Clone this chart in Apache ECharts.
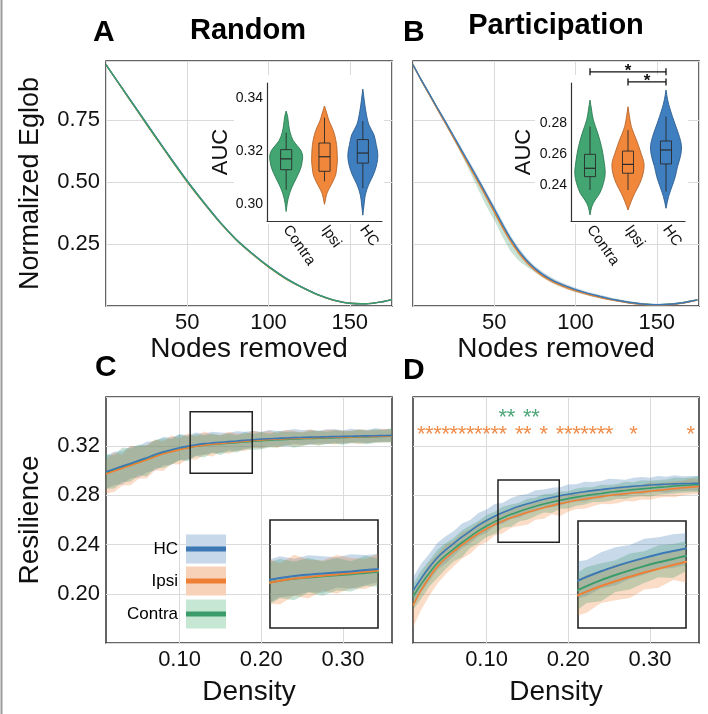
<!DOCTYPE html>
<html><head><meta charset="utf-8">
<script src="https://cdn.jsdelivr.net/npm/echarts@6/dist/echarts.min.js"></script>
<style>html,body{margin:0;padding:0;background:#fff}#c{width:708px;height:714px}</style>
</head><body><div id="c"></div>
<script>
// ---------------- DATA ----------------
const VIOLIN_CATS = ['Contra', 'Ipsi', 'HC'];
const LEGEND_NAMES = ['HC', 'Ipsi', 'Contra'];

// Panel A: random attack
const RAND_X = [0,10,20,30,40,50,60,70,80,90,100,110,120,130,140,150,160,170,176];
const RAND_HC = [0.975,0.880,0.785,0.690,0.596,0.505,0.420,0.340,0.270,0.212,0.160,0.115,0.078,0.047,0.024,0.011,0.009,0.017,0.027];
const RAND_IPSI = [0.975,0.878,0.782,0.687,0.593,0.502,0.418,0.338,0.268,0.210,0.158,0.113,0.077,0.046,0.023,0.011,0.009,0.017,0.027];
const RAND_CONTRA = [0.975,0.879,0.783,0.688,0.594,0.503,0.419,0.339,0.269,0.211,0.159,0.114,0.077,0.046,0.024,0.011,0.009,0.017,0.027];
const RAND_SPREAD = [0.002,0.004,0.005,0.005,0.005,0.005,0.005,0.005,0.004,0.004,0.004,0.004,0.003,0.003,0.003,0.002,0.002,0.002,0.002];

// Panel B: participation attack
const PART_X = [0,5,10,15,20,25,30,35,40,45,50,55,60,65,70,75,80,85,90,95,100,105,110,115,120,125,130,135,140,145,150,155,160,165,170,175];
const PART_HC = [0.975,0.915,0.858,0.800,0.744,0.686,0.628,0.570,0.512,0.452,0.392,0.330,0.273,0.224,0.184,0.152,0.127,0.107,0.091,0.078,0.066,0.056,0.047,0.039,0.031,0.024,0.018,0.013,0.009,0.006,0.005,0.006,0.008,0.012,0.018,0.025];
const PART_IPSI = [0.975,0.913,0.855,0.796,0.739,0.680,0.621,0.562,0.503,0.443,0.382,0.320,0.264,0.216,0.177,0.146,0.121,0.102,0.086,0.073,0.062,0.052,0.043,0.035,0.028,0.022,0.016,0.011,0.008,0.005,0.004,0.005,0.007,0.011,0.017,0.024];
const PART_CONTRA = [0.975,0.914,0.856,0.797,0.740,0.682,0.623,0.564,0.505,0.445,0.384,0.322,0.266,0.218,0.179,0.148,0.123,0.104,0.088,0.075,0.063,0.053,0.044,0.036,0.029,0.023,0.017,0.012,0.008,0.006,0.005,0.006,0.008,0.012,0.018,0.025];
const PART_HC_SPREAD = [0.002,0.004,0.006,0.007,0.008,0.009,0.010,0.011,0.012,0.012,0.013,0.013,0.012,0.012,0.011,0.010,0.010,0.009,0.009,0.008,0.008,0.007,0.007,0.006,0.006,0.005,0.005,0.005,0.004,0.004,0.004,0.004,0.004,0.004,0.004,0.004];
const PART_IPSI_SPREAD = [0.002,0.004,0.005,0.006,0.007,0.008,0.009,0.010,0.010,0.011,0.011,0.011,0.010,0.010,0.009,0.009,0.008,0.008,0.007,0.007,0.006,0.006,0.006,0.005,0.005,0.005,0.004,0.004,0.004,0.004,0.003,0.003,0.003,0.003,0.003,0.003];
const PART_CONTRA_UP = [0.002,0.004,0.005,0.006,0.007,0.008,0.009,0.010,0.011,0.014,0.016,0.015,0.013,0.011,0.010,0.009,0.008,0.008,0.007,0.007,0.006,0.006,0.006,0.005,0.005,0.005,0.004,0.004,0.004,0.004,0.003,0.003,0.003,0.003,0.003,0.003];
const PART_CONTRA_LO = [0.002,0.004,0.005,0.006,0.008,0.010,0.014,0.022,0.032,0.040,0.036,0.042,0.045,0.034,0.020,0.012,0.009,0.008,0.007,0.007,0.006,0.006,0.006,0.005,0.005,0.005,0.004,0.004,0.004,0.004,0.003,0.003,0.003,0.003,0.003,0.003];

// Violin insets (AUC)
const VA_CONTRA_LV = [0.3351,0.333,0.330,0.327,0.324,0.322,0.320,0.318,0.316,0.314,0.312,0.310,0.308,0.306,0.304,0.302,0.300,0.2971];
const VA_CONTRA_DN = [0,0.09,0.15,0.24,0.42,0.67,0.91,1,0.97,0.91,0.79,0.64,0.48,0.33,0.21,0.12,0.06,0];
const VA_IPSI_LV = [0.337,0.334,0.3313,0.329,0.3262,0.3224,0.319,0.3161,0.3135,0.311,0.309,0.3072,0.3055,0.304,0.302,0.2998];
const VA_IPSI_DN = [0,0.15,0.28,0.45,0.61,0.73,0.77,0.78,0.74,0.68,0.55,0.41,0.26,0.15,0.07,0];
const VA_HC_LV = [0.3434,0.339,0.3351,0.33,0.3262,0.3224,0.3186,0.3148,0.311,0.3072,0.3033,0.2995,0.2957];
const VA_HC_DN = [0,0.09,0.18,0.36,0.67,0.81,0.91,0.84,0.64,0.35,0.15,0.07,0];
// box: [lower whisker, q1, median, q3, upper whisker]
const VA_CONTRA_BOX = [0.3053,0.3129,0.3170,0.3205,0.3269];
const VA_IPSI_BOX = [0.3085,0.3123,0.3178,0.3230,0.3326];
const VA_HC_BOX = [0.3059,0.3154,0.3192,0.3243,0.3313];

const VB_CONTRA_LV = [0.2948,0.289,0.2819,0.2733,0.2647,0.2561,0.2476,0.2411,0.2347,0.2303,0.226,0.2207];
const VB_CONTRA_DN = [0,0.09,0.21,0.49,0.72,0.87,0.95,0.84,0.61,0.32,0.11,0];
const VB_IPSI_LV = [0.2905,0.285,0.2776,0.269,0.2604,0.254,0.2476,0.2411,0.2347,0.2292,0.2239];
const VB_IPSI_DN = [0,0.08,0.21,0.53,0.82,1.0,0.95,0.74,0.42,0.19,0];
const VB_HC_LV = [0.3013,0.295,0.2884,0.2798,0.2712,0.2647,0.2583,0.2518,0.2454,0.2389,0.2325,0.225];
const VB_HC_DN = [0,0.1,0.27,0.55,0.84,0.97,0.90,0.72,0.58,0.37,0.16,0];
const VB_CONTRA_BOX = [0.2368,0.2454,0.2508,0.2598,0.2776];
const VB_IPSI_BOX = [0.2368,0.2476,0.2533,0.2619,0.2755];
const VB_HC_BOX = [0.2357,0.2536,0.2626,0.2684,0.2841];

const VA_TICKS = [0.30, 0.32, 0.34];
const VB_TICKS = [0.24, 0.26, 0.28];
const SIG_FROM = ['Contra', 'Ipsi'];
const SIG_TO = ['HC', 'HC'];
const SIG_Y = [0.313, 0.3065];

// Panels C, D: resilience vs density
const DENSITY = [0.01,0.02,0.03,0.04,0.05,0.06,0.07,0.08,0.09,0.10,0.11,0.12,0.13,0.14,0.15,0.16,0.17,0.18,0.19,0.20,0.21,0.22,0.23,0.24,0.25,0.26,0.27,0.28,0.29,0.30,0.31,0.32,0.33,0.34,0.35,0.36];
const DENS_TICKS = [0.10, 0.20, 0.30];

const C_HC = [0.2992,0.3015,0.3038,0.3060,0.3083,0.3107,0.3132,0.3154,0.3171,0.3187,0.3200,0.3212,0.3221,0.3227,0.3232,0.3237,0.3242,0.3248,0.3253,0.3258,0.3261,0.3264,0.3267,0.3270,0.3272,0.3274,0.3275,0.3277,0.3278,0.3280,0.3281,0.3283,0.3284,0.3285,0.3287,0.3288];
const C_IPSI = [0.2975,0.2998,0.3021,0.3043,0.3066,0.3090,0.3115,0.3138,0.3156,0.3172,0.3186,0.3199,0.3209,0.3216,0.3222,0.3228,0.3234,0.3240,0.3246,0.3251,0.3255,0.3258,0.3261,0.3264,0.3266,0.3268,0.3270,0.3272,0.3273,0.3275,0.3276,0.3278,0.3279,0.3280,0.3282,0.3283];
const C_CONTRA = [0.2984,0.3006,0.3029,0.3051,0.3073,0.3096,0.3120,0.3142,0.3159,0.3175,0.3188,0.3199,0.3208,0.3214,0.3219,0.3224,0.3229,0.3235,0.3240,0.3245,0.3249,0.3252,0.3255,0.3258,0.3261,0.3263,0.3265,0.3267,0.3269,0.3271,0.3273,0.3275,0.3276,0.3278,0.3280,0.3281];
// band offsets (thousandths) above / below the mean
const C_HC_UP = [13,14,12,14,12,13,11,12,10,11,9,10,8,9,8,7,8,7,7,6,7,6,6,7,6,6,5,6,6,5,6,5,5,6,5,5];
const C_HC_LO = [14,13,15,12,14,12,13,11,12,10,11,9,9,8,9,7,8,7,6,7,6,6,7,5,6,6,5,6,5,6,5,5,6,5,5,5];
const C_IPSI_UP = [12,15,11,16,13,12,14,10,13,9,12,8,11,8,7,9,7,6,8,6,7,5,7,6,5,7,5,6,6,5,5,6,5,5,6,5];
const C_IPSI_LO = [16,17,14,16,13,15,11,14,10,12,9,11,8,10,7,9,7,8,6,7,6,7,5,6,6,5,6,5,6,5,5,6,5,5,5,5];
const C_CONTRA_UP = [15,12,16,13,14,11,13,12,10,12,9,10,8,9,7,8,6,8,6,7,5,7,6,6,5,6,6,5,6,5,5,6,5,6,5,7];
const C_CONTRA_LO = [13,15,12,14,11,14,10,12,11,9,11,8,10,7,9,7,8,6,7,7,6,6,5,7,6,5,6,5,5,6,5,5,6,5,5,5];

const D_HC = [0.2025,0.2125,0.2215,0.2295,0.2357,0.2410,0.2462,0.2510,0.2556,0.2596,0.2631,0.2661,0.2688,0.2711,0.2732,0.2751,0.2768,0.2783,0.2797,0.2809,0.2820,0.2830,0.2839,0.2847,0.2855,0.2862,0.2868,0.2874,0.2879,0.2884,0.2888,0.2891,0.2894,0.2896,0.2897,0.2898];
const D_IPSI = [0.1905,0.2030,0.2135,0.2223,0.2289,0.2344,0.2397,0.2445,0.2490,0.2529,0.2563,0.2592,0.2618,0.2641,0.2662,0.2682,0.2700,0.2717,0.2733,0.2747,0.2760,0.2771,0.2781,0.2790,0.2799,0.2807,0.2814,0.2821,0.2827,0.2834,0.2841,0.2848,0.2855,0.2862,0.2867,0.2872];
const D_CONTRA = [0.1978,0.2079,0.2170,0.2250,0.2312,0.2365,0.2417,0.2465,0.2511,0.2551,0.2587,0.2618,0.2646,0.2670,0.2692,0.2712,0.2730,0.2746,0.2761,0.2774,0.2786,0.2797,0.2807,0.2816,0.2825,0.2833,0.2840,0.2847,0.2853,0.2859,0.2865,0.2870,0.2876,0.2881,0.2885,0.2888];
const D_HC_UP = [11,12,11,12,11,10,11,9,10,9,10,8,9,9,8,9,8,8,7,8,7,8,7,7,8,7,6,7,7,6,7,6,7,6,6,6];
const D_HC_LO = [10,11,11,10,11,10,9,10,9,10,8,9,8,9,8,8,7,8,8,7,7,8,7,7,6,7,7,6,7,6,6,7,6,6,6,6];
const D_IPSI_UP = [12,11,12,10,11,9,10,8,9,8,7,8,7,8,7,7,6,7,7,6,7,6,7,6,6,7,6,6,6,7,6,6,6,6,7,6];
const D_IPSI_LO = [18,16,15,14,13,12,11,12,10,11,9,10,8,9,10,8,9,7,10,8,7,8,7,6,7,7,6,7,6,7,6,6,7,6,6,6];
const D_CONTRA_UP = [10,11,10,11,10,9,10,9,8,9,8,9,8,7,8,7,8,7,7,6,7,7,6,7,6,6,7,6,7,6,6,6,7,6,6,7];
const D_CONTRA_LO = [11,12,11,12,11,10,12,9,10,9,10,8,10,8,9,8,7,9,7,8,7,7,6,7,7,6,7,6,6,7,6,6,6,6,6,6];

// zoom boxes
const C_BOX_X = [0.113, 0.189];
const C_BOX_Y = [0.298, 0.348];
const D_BOX_X = [0.114, 0.189];
const D_BOX_Y = [0.242, 0.2925];

// significance markers in D
const STAR_IPSI_X = [0.02,0.03,0.04,0.05,0.06,0.07,0.08,0.09,0.10,0.11,0.12,0.14,0.15,0.17,0.19,0.20,0.21,0.22,0.23,0.24,0.25,0.28,0.35];
const STAR_IPSI_Y = 0.3328;
const STAR_CONTRA_X = [0.12,0.13,0.15,0.16];
const STAR_CONTRA_Y = 0.3467;

// ---------------- STYLE / LAYOUT ----------------
const FONT = 'Liberation Sans, Arial, Helvetica, sans-serif';
const COL = {HC:'#3b78b4', Ipsi:'#ee8035', Contra:'#3a9c69'};
const FILL = {HC:'rgba(59,120,180,0.28)', Ipsi:'rgba(238,128,53,0.28)', Contra:'rgba(58,156,105,0.28)'};
const LEG_FILL = {HC:'#c6d8ea', Ipsi:'#f8d2b8', Contra:'#c7e7d5'};
const VCOL = {HC:'#3f7fc0', Ipsi:'#f0873b', Contra:'#43a572'};
const VEDGE = {HC:'#2b5e90', Ipsi:'#b5652c', Contra:'#2c7c54'};
const GRIDC = '#dadada';

const G = [
  {left:106, top:61, width:286, height:245},   // 0 A
  {left:413, top:61, width:286, height:245},   // 1 B
  {left:106, top:397, width:286, height:246},  // 2 C
  {left:413, top:397, width:286, height:246},  // 3 D
  {left:267, top:83, width:115, height:138},   // 4 A violin
  {left:571, top:83, width:114, height:138},   // 5 B violin
  {left:270, top:520, width:108, height:108},  // 6 C inset
  {left:578, top:521, width:108, height:107}   // 7 D inset
];
const C_Y = [0.16, 0.36];

function mainToInset(g, mainG, mainR, insG, insR) {
  const py = mainG.top + mainG.height - (g - mainR[0]) / (mainR[1] - mainR[0]) * mainG.height;
  return insR[0] + (insG.top + insG.height - py) / insG.height * (insR[1] - insR[0]);
}
const insetGridVals = (insG, insR, mainG) => [0.20, 0.24, 0.28, 0.32]
  .map(g => mainToInset(g, mainG, C_Y, insG, insR))
  .filter(v => v > insR[0] && v < insR[1]);

const grids = G.map((g, i) => {
  const base = Object.assign({outerBoundsMode:'none', containLabel:false}, g);
  if (i < 4) Object.assign(base, {show:true, borderColor:'#333', borderWidth:1.5, backgroundColor:'transparent'});
  else if (i >= 6) Object.assign(base, {show:true, borderColor:'#222', borderWidth:1.6, backgroundColor:'#ffffff', z:1});
  else Object.assign(base, {show:false});
  return base;
});

const tickLabel = {fontSize:22, color:'#111', fontFamily:FONT};
const nameStyle = {fontSize:28, color:'#111', fontFamily:FONT};
const split = {show:true, lineStyle:{color:GRIDC, width:1}};

function mainX(gi, opts) {
  return Object.assign({gridIndex:gi, type:'value', axisLine:{show:false}, axisTick:{show:false},
    splitLine:split, nameLocation:'middle', nameTextStyle:nameStyle}, opts);
}
const xAxes = [
  mainX(0, {min:0, max:176, interval:50, axisLabel:Object.assign({margin:6, showMinLabel:false, showMaxLabel:false}, tickLabel), name:'Nodes removed', nameGap:29}),
  mainX(1, {min:0, max:176, interval:50, axisLabel:Object.assign({margin:6, showMinLabel:false, showMaxLabel:false}, tickLabel), name:'Nodes removed', nameGap:29}),
  mainX(2, {min:0.01, max:0.36, axisTick:{show:false, customValues:DENS_TICKS}, axisLabel:Object.assign({margin:6, customValues:DENS_TICKS, formatter:v=>v.toFixed(2)}, tickLabel), name:'Density', nameGap:35}),
  mainX(3, {min:0.01, max:0.36, axisTick:{show:false, customValues:DENS_TICKS}, axisLabel:Object.assign({margin:6, customValues:DENS_TICKS, formatter:v=>v.toFixed(2)}, tickLabel), name:'Density', nameGap:35}),
  {gridIndex:4, type:'category', data:VIOLIN_CATS, z:3, axisLine:{show:true, lineStyle:{color:'#333', width:1.2}}, axisTick:{show:false}, splitLine:{show:false},
    axisLabel:{rotate:-55, fontSize:15, color:'#111', fontFamily:FONT, margin:6, interval:0}},
  {gridIndex:5, type:'category', data:VIOLIN_CATS, z:3, axisLine:{show:true, lineStyle:{color:'#333', width:1.2}}, axisTick:{show:false}, splitLine:{show:false},
    axisLabel:{rotate:-55, fontSize:15, color:'#111', fontFamily:FONT, margin:6, interval:0}},
  {gridIndex:6, type:'value', min:C_BOX_X[0], max:C_BOX_X[1], show:false},
  {gridIndex:7, type:'value', min:D_BOX_X[0], max:D_BOX_X[1], show:false}
];
const civ = insetGridVals(G[6], C_BOX_Y, G[2]);
const div_ = insetGridVals(G[7], D_BOX_Y, G[3]);
const yAxes = [
  {gridIndex:0, type:'value', min:0, max:0.99, interval:0.25, axisLine:{show:false}, axisTick:{show:false}, splitLine:split,
    axisLabel:Object.assign({margin:6, showMinLabel:false, showMaxLabel:false, formatter:v=>v.toFixed(2)}, tickLabel),
    name:'Normalized Eglob', nameLocation:'middle', nameGap:62, nameTextStyle:Object.assign({}, nameStyle, {fontSize:27})},
  {gridIndex:1, type:'value', min:0, max:0.99, interval:0.25, axisLine:{show:false}, axisTick:{show:false}, splitLine:split, axisLabel:{show:false}},
  {gridIndex:2, type:'value', min:C_Y[0], max:C_Y[1], interval:0.04, axisLine:{show:false}, axisTick:{show:false}, splitLine:split,
    axisLabel:Object.assign({margin:6, showMinLabel:false, showMaxLabel:false, formatter:v=>v.toFixed(2)}, tickLabel),
    name:'Resilience', nameLocation:'middle', nameGap:62, nameTextStyle:nameStyle},
  {gridIndex:3, type:'value', min:C_Y[0], max:C_Y[1], interval:0.04, axisLine:{show:false}, axisTick:{show:false}, splitLine:split, axisLabel:{show:false}},
  {gridIndex:4, type:'value', min:0.2935, max:0.3457, z:3, axisLine:{show:true, lineStyle:{color:'#333', width:1.2}}, axisTick:{show:false, customValues:VA_TICKS}, splitLine:{show:false},
    axisLabel:{customValues:VA_TICKS, fontSize:14, color:'#111', fontFamily:FONT, margin:4, formatter:v=>v.toFixed(2)},
    name:'AUC', nameLocation:'middle', nameGap:34, nameTextStyle:{fontSize:22, color:'#111', fontFamily:FONT}},
  {gridIndex:5, type:'value', min:0.2168, max:0.3058, z:3, axisLine:{show:true, lineStyle:{color:'#333', width:1.2}}, axisTick:{show:false, customValues:VB_TICKS}, splitLine:{show:false},
    axisLabel:{customValues:VB_TICKS, fontSize:14, color:'#111', fontFamily:FONT, margin:4, formatter:v=>v.toFixed(2)},
    name:'AUC', nameLocation:'middle', nameGap:36, nameTextStyle:{fontSize:22, color:'#111', fontFamily:FONT}},
  {gridIndex:6, type:'value', min:C_BOX_Y[0], max:C_BOX_Y[1], z:2, axisLine:{show:false}, axisLabel:{show:false}, axisTick:{show:false, customValues:civ}, splitLine:split},
  {gridIndex:7, type:'value', min:D_BOX_Y[0], max:D_BOX_Y[1], z:2, axisLine:{show:false}, axisLabel:{show:false}, axisTick:{show:false, customValues:div_}, splitLine:split}
];

// ---------------- SERIES ----------------
const series = [];
function band(ax, xs, lo, hi, fill, clip, z) {
  series.push({type:'custom', xAxisIndex:ax, yAxisIndex:ax, clip:!!clip, silent:true, z:z||2, data:[[xs[0], lo[0]]],
    renderItem:(p, api) => {
      const pts = [];
      for (let i = 0; i < xs.length; i++) pts.push(api.coord([xs[i], hi[i]]));
      for (let i = xs.length - 1; i >= 0; i--) pts.push(api.coord([xs[i], lo[i]]));
      return {type:'polygon', shape:{points:pts}, style:{fill:fill}};
    }});
}
function line(ax, xs, ys, color, w, z) {
  series.push({type:'line', xAxisIndex:ax, yAxisIndex:ax, data:xs.map((x, i) => [x, ys[i]]), symbol:'none', showSymbol:false,
    smooth:0.3, lineStyle:{color:color, width:w}, silent:true, z:z||3, clip:true});
}
const add = (a, b, s) => a.map((v, i) => v + s * b[i]);
const addK = (a, b, s) => a.map((v, i) => v + s * b[i] / 1000);

// A
band(0, RAND_X, add(RAND_HC, RAND_SPREAD, -1), add(RAND_HC, RAND_SPREAD, 1), FILL.HC);
band(0, RAND_X, add(RAND_IPSI, RAND_SPREAD, -1), add(RAND_IPSI, RAND_SPREAD, 1), FILL.Ipsi);
band(0, RAND_X, add(RAND_CONTRA, RAND_SPREAD, -1), add(RAND_CONTRA, RAND_SPREAD, 1), FILL.Contra);
line(0, RAND_X, RAND_IPSI, COL.Ipsi, 1.4);
line(0, RAND_X, RAND_HC, COL.HC, 1.4);
line(0, RAND_X, RAND_CONTRA, COL.Contra, 1.4);
// B
band(1, PART_X, add(PART_HC, PART_HC_SPREAD, -1), add(PART_HC, PART_HC_SPREAD, 1), FILL.HC);
band(1, PART_X, add(PART_IPSI, PART_IPSI_SPREAD, -1), add(PART_IPSI, PART_IPSI_SPREAD, 1), FILL.Ipsi);
band(1, PART_X, add(PART_CONTRA, PART_CONTRA_LO, -1), add(PART_CONTRA, PART_CONTRA_UP, 1), FILL.Contra);
line(1, PART_X, PART_CONTRA, COL.Contra, 1.4);
line(1, PART_X, PART_IPSI, COL.Ipsi, 1.4);
line(1, PART_X, PART_HC, COL.HC, 1.4);

// C, D and their insets
const CD = [
  {ax:2, hc:C_HC, ip:C_IPSI, co:C_CONTRA, hu:C_HC_UP, hl:C_HC_LO, iu:C_IPSI_UP, il:C_IPSI_LO, cu:C_CONTRA_UP, cl:C_CONTRA_LO, ins:6},
  {ax:3, hc:D_HC, ip:D_IPSI, co:D_CONTRA, hu:D_HC_UP, hl:D_HC_LO, iu:D_IPSI_UP, il:D_IPSI_LO, cu:D_CONTRA_UP, cl:D_CONTRA_LO, ins:7}
];
CD.forEach(d => {
  [d.ax, d.ins].forEach(ax => {
    const clip = ax === d.ins;
    const z = clip ? 4 : 2;
    band(ax, DENSITY, addK(d.hc, d.hl, -1), addK(d.hc, d.hu, 1), FILL.HC, true, z);
    band(ax, DENSITY, addK(d.ip, d.il, -1), addK(d.ip, d.iu, 1), FILL.Ipsi, true, z);
    band(ax, DENSITY, addK(d.co, d.cl, -1), addK(d.co, d.cu, 1), FILL.Contra, true, z);
    line(ax, DENSITY, d.co, COL.Contra, clip ? 2 : 1.6, z + 1);
    line(ax, DENSITY, d.ip, COL.Ipsi, clip ? 2 : 1.6, z + 1);
    line(ax, DENSITY, d.hc, COL.HC, clip ? 2 : 1.6, z + 1);
  });
});

// zoom boxes
[[2, C_BOX_X, C_BOX_Y], [3, D_BOX_X, D_BOX_Y]].forEach(([ax, bx, by]) => {
  series.push({type:'custom', xAxisIndex:ax, yAxisIndex:ax, silent:true, z:6, clip:false,
    data:[[bx[0], by[1], bx[1], by[0]]],
    renderItem:(p, api) => {
      const a = api.coord([api.value(0), api.value(1)]);
      const b = api.coord([api.value(2), api.value(3)]);
      return {type:'rect', shape:{x:a[0], y:a[1], width:b[0] - a[0], height:b[1] - a[1]}, style:{fill:'none', stroke:'#222', lineWidth:1.5}};
    }});
});

// stars in D
[[STAR_IPSI_X, STAR_IPSI_Y, COL.Ipsi], [STAR_CONTRA_X, STAR_CONTRA_Y, COL.Contra]].forEach(([xs, y, c]) => {
  series.push({type:'custom', xAxisIndex:3, yAxisIndex:3, silent:true, z:6, clip:false,
    data:xs.map(x => [x, y]),
    renderItem:(p, api) => {
      const pt = api.coord([api.value(0), api.value(1)]);
      return {type:'text', style:{text:'*', x:pt[0], y:pt[1] + 4.5, align:'center', verticalAlign:'middle', fontSize:22, fontFamily:FONT, fill:c, opacity:0.9}};
    }});
});

// violins
function violin(ax, cat, lv, dn, box, fill, edge, wf) {
  const ci = VIOLIN_CATS.indexOf(cat);
  series.push({type:'custom', xAxisIndex:ax, yAxisIndex:ax, silent:true, z:5, clip:false,
    data:[[ci, box[2]]],
    renderItem:(p, api) => {
      const bw = api.size([1, 0], [ci, box[2]])[0];
      const cx = api.coord([ci, box[2]])[0];
      const mh = bw * wf;
      const R = [], L = [];
      lv.forEach((v, i) => {
        const y = api.coord([ci, v])[1];
        R.push([cx + dn[i] * mh, y]);
        L.unshift([cx - dn[i] * mh, y]);
      });
      const Y = v => api.coord([ci, v])[1];
      const bh = bw * 0.145;
      const st = {stroke:'#2a2a2a', lineWidth:0.9, fill:'none'};
      return {type:'group', children:[
        {type:'polygon', shape:{points:R.concat(L), smooth:0.35}, style:{fill:fill, stroke:edge, lineWidth:0.9}},
        {type:'line', shape:{x1:cx, y1:Y(box[4]), x2:cx, y2:Y(box[3])}, style:st},
        {type:'line', shape:{x1:cx, y1:Y(box[1]), x2:cx, y2:Y(box[0])}, style:st},
        {type:'rect', shape:{x:cx - bh, y:Y(box[3]), width:2 * bh, height:Y(box[1]) - Y(box[3])}, style:st},
        {type:'line', shape:{x1:cx - bh, y1:Y(box[2]), x2:cx + bh, y2:Y(box[2])}, style:{stroke:'#2a2a2a', lineWidth:1.2}}
      ]};
    }});
}
violin(4, 'Contra', VA_CONTRA_LV, VA_CONTRA_DN, VA_CONTRA_BOX, VCOL.Contra, VEDGE.Contra, 0.43);
violin(4, 'Ipsi', VA_IPSI_LV, VA_IPSI_DN, VA_IPSI_BOX, VCOL.Ipsi, VEDGE.Ipsi, 0.43);
violin(4, 'HC', VA_HC_LV, VA_HC_DN, VA_HC_BOX, VCOL.HC, VEDGE.HC, 0.43);
violin(5, 'Contra', VB_CONTRA_LV, VB_CONTRA_DN, VB_CONTRA_BOX, VCOL.Contra, VEDGE.Contra, 0.42);
violin(5, 'Ipsi', VB_IPSI_LV, VB_IPSI_DN, VB_IPSI_BOX, VCOL.Ipsi, VEDGE.Ipsi, 0.42);
violin(5, 'HC', VB_HC_LV, VB_HC_DN, VB_HC_BOX, VCOL.HC, VEDGE.HC, 0.42);

// significance brackets
series.push({type:'custom', xAxisIndex:5, yAxisIndex:5, silent:true, z:6, clip:false,
  data:SIG_Y.map((y, i) => [VIOLIN_CATS.indexOf(SIG_FROM[i]), y]),
  renderItem:(p, api) => {
    const i = p.dataIndex;
    const a = api.coord([VIOLIN_CATS.indexOf(SIG_FROM[i]), SIG_Y[i]]);
    const b = api.coord([VIOLIN_CATS.indexOf(SIG_TO[i]), SIG_Y[i]]);
    const st = {stroke:'#111', lineWidth:1.3, fill:'none'};
    return {type:'group', children:[
      {type:'line', shape:{x1:a[0], y1:a[1], x2:b[0], y2:b[1]}, style:st},
      {type:'line', shape:{x1:a[0], y1:a[1] - 3.5, x2:a[0], y2:a[1] + 3.5}, style:st},
      {type:'line', shape:{x1:b[0], y1:b[1] - 3.5, x2:b[0], y2:b[1] + 3.5}, style:st},
      {type:'text', style:{text:'*', x:(a[0] + b[0]) / 2, y:a[1] - 1, align:'center', verticalAlign:'middle', fontSize:17, fontWeight:'bold', fontFamily:FONT, fill:'#111'}}
    ]};
  }});

// ---------------- GRAPHIC (titles, legend, inset backgrounds) ----------------
const txt = (t, x, y, size, align, bold) => ({type:'text', z:10, style:{text:t, x:x, y:y, fontSize:size, fontWeight:bold ? 'bold' : 'normal', fontFamily:FONT, fill:'#000', align:align, verticalAlign:'middle'}});
const graphic = [
  {type:'rect', z:1, silent:true, shape:{x:234, y:75, width:150, height:149}, style:{fill:'#fff'}},
  {type:'rect', z:1, silent:true, shape:{x:535, y:75, width:153, height:149}, style:{fill:'#fff'}},
  {type:'line', z:10, silent:true, shape:{x1:1.5, y1:0, x2:1.5, y2:714}, style:{stroke:'#9a9a9a', lineWidth:2}},
  txt('A', 93, 33, 30, 'left', true),
  txt('Random', 248, 31, 29, 'center', true),
  txt('B', 403, 33, 30, 'left', true),
  txt('Participation', 556, 26, 29, 'center', true),
  txt('C', 95, 368, 30, 'left', true),
  txt('D', 403, 371, 30, 'left', true)
];
const LEG_Y = [549, 581, 614];
LEGEND_NAMES.forEach((n, i) => {
  graphic.push({type:'rect', z:10, silent:true, shape:{x:186, y:LEG_Y[i] - 14.5, width:40, height:29}, style:{fill:LEG_FILL[n]}});
  graphic.push({type:'line', z:11, silent:true, shape:{x1:186, y1:LEG_Y[i], x2:226, y2:LEG_Y[i]}, style:{stroke:COL[n], lineWidth:5}});
  graphic.push(txt(n, 178, LEG_Y[i], 17, 'right', false));
});

const chart = echarts.init(document.getElementById('c'), null, {renderer:'canvas', width:708, height:714});
chart.setOption({
  animation:false,
  backgroundColor:'#ffffff',
  textStyle:{fontFamily:FONT},
  grid:grids,
  xAxis:xAxes,
  yAxis:yAxes,
  series:series,
  graphic:graphic
});
</script></body></html>
